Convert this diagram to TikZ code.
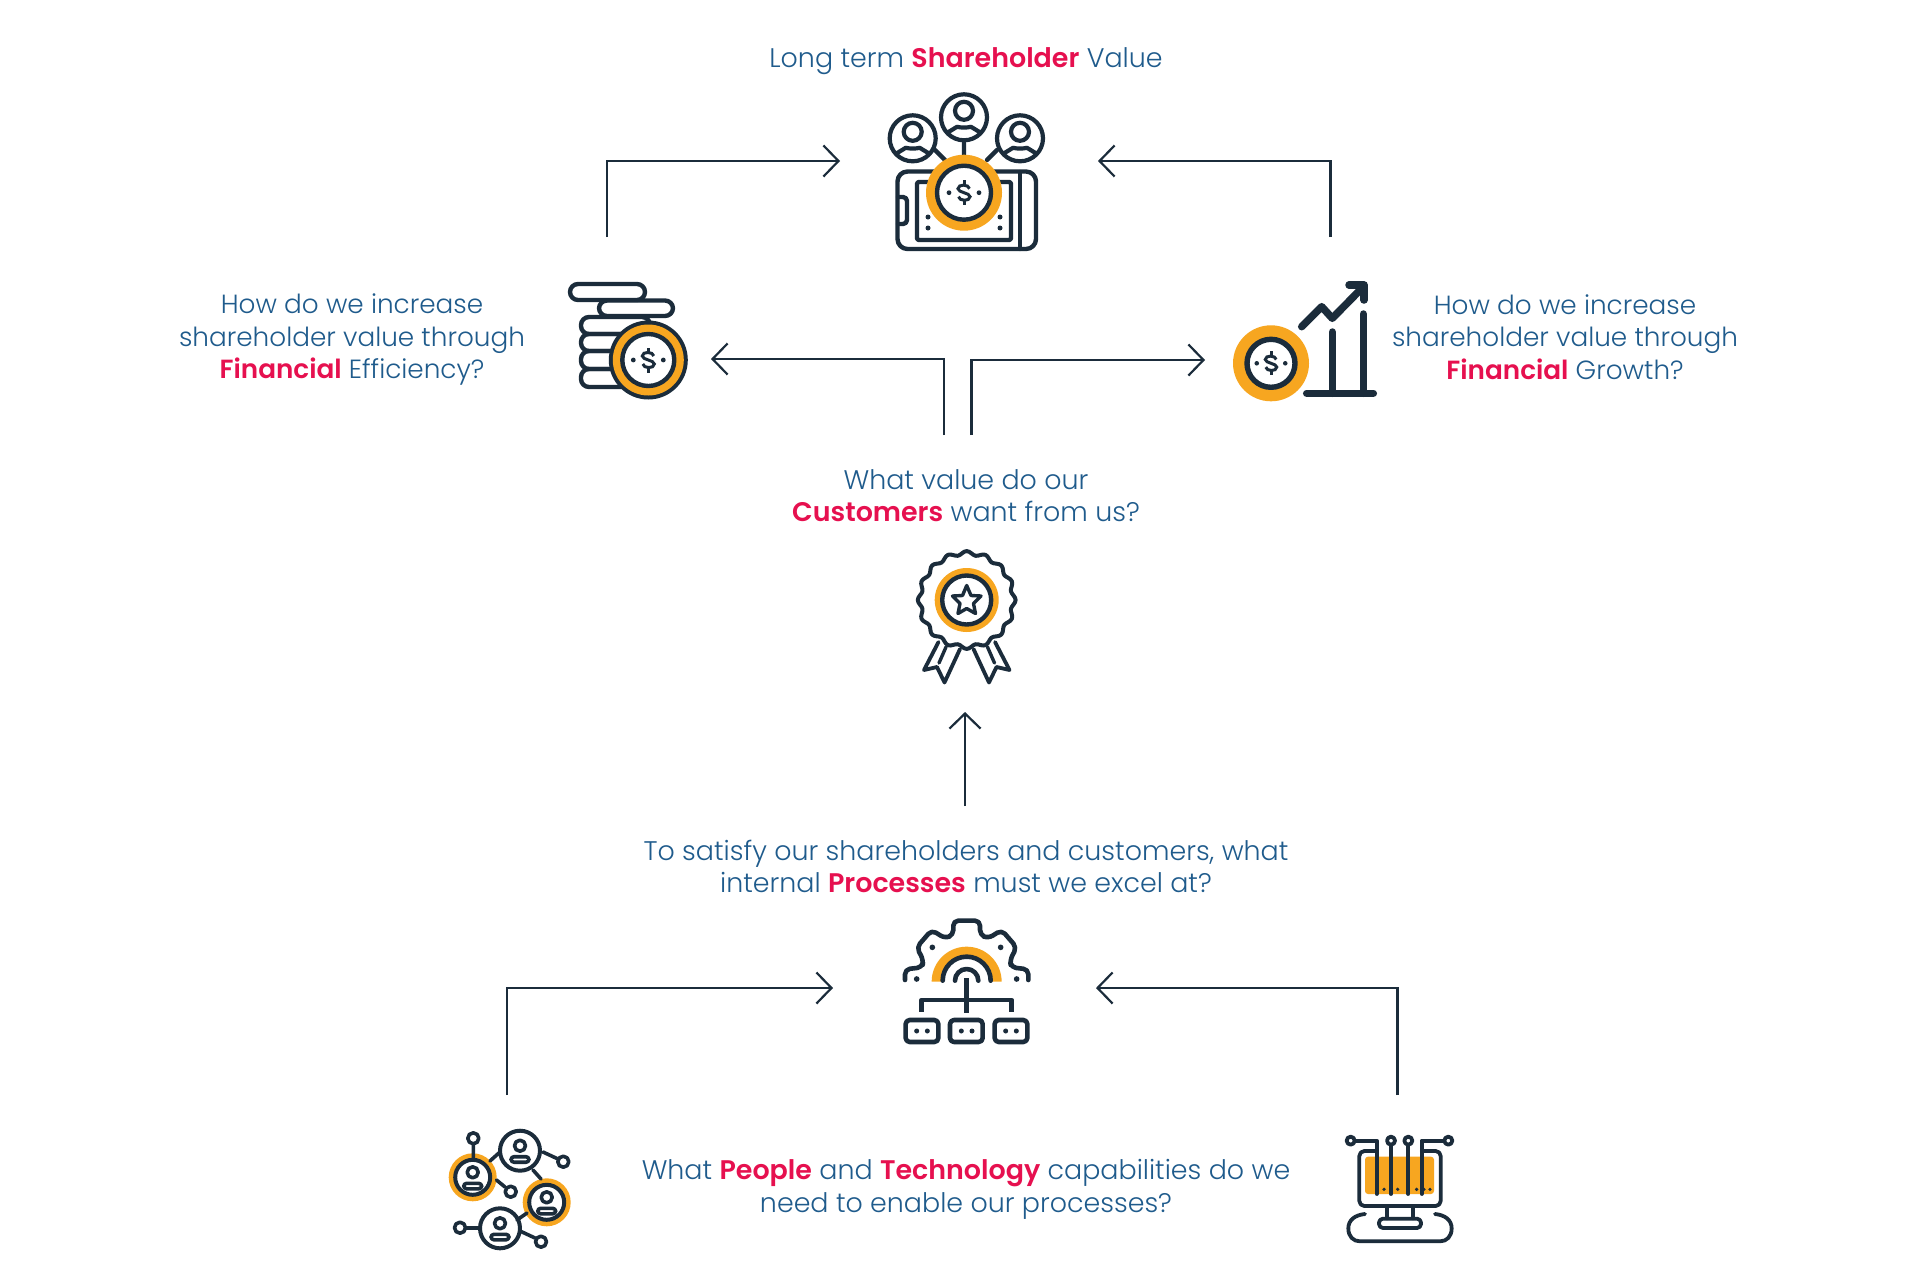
\documentclass[tikz,border=0pt]{standalone}
\usepackage{fontspec}
\setmainfont{Poppins}[UprightFont=* Light,BoldFont=* SemiBold]
\usetikzlibrary{arrows.meta}
\definecolor{ink}{HTML}{1B2C3B}
\definecolor{gold}{HTML}{F7A620}
\definecolor{bluetxt}{HTML}{1F5B8C}
\definecolor{redtxt}{HTML}{E6104F}
\newcommand{\hl}[1]{\textcolor{redtxt}{\textbf{#1}}}
\tikzset{
  link/.style={draw=ink,line width=2.2pt,-{Straight Barb[length=15pt,width=31pt,line width=2.2pt]},line join=miter},
  label/.style={text=bluetxt,align=center,font=\fontsize{26.9}{32.5}\selectfont,inner sep=0pt},
  labelnarrow/.style={label,font=\fontsize{26.3}{32.5}\selectfont},
  icon/.style={draw=ink,line width=4.4pt,line cap=round,line join=round},
  dollar/.pic={
    \fill[ink] (-15,0) circle (2.4) (15,0) circle (2.4);
    \draw[ink,line width=3pt,line cap=butt] (5.5,-4) .. controls (5,-8.5) and (-6,-9) .. (-6,-4) .. controls (-6,0) and (6,0) .. (6,4) .. controls (6,9) and (-5,8.5) .. (-5.5,4);
    \draw[ink,line width=3pt] (0,-8)--(0,-12.5) (0,8)--(0,12.5);
  },
  bust/.pic={
    \draw[icon,line width=4.2pt] (0,0) circle (23);
    \draw[icon,line width=4.2pt,fill=white] (0,-6.5) circle (9);
    \draw[icon,line width=4.2pt] (-16,15) -- (-7,9.5) .. controls (-3,10.5) and (3,10.5) .. (7,9.5) -- (16,15);
  },
  mini/.pic={
    \draw[icon,line width=3.6pt] (0,-5) circle (5.5);
    \draw[icon,line width=3.6pt,rounded corners=3pt] (-9,11.5) -- (-9,6) -- (9,6) -- (9,11.5) -- cycle;
  }
}
\begin{document}
\begin{tikzpicture}[x=1pt,y=-1pt]
\useasboundingbox (0,0) rectangle (1920,1280);
\fill[white] (0,0) rectangle (1920,1280);

% ---- text
\node[label] (tTop) at (966,61) {Long term \hl{Shareholder} Value};
\node[labelnarrow] (tEff) at (352,339.5) {How do we increase\\shareholder value through\\\hl{Financial} Efficiency?};
\node[labelnarrow] (tGro) at (1565,337) {How do we increase\\shareholder value through\\\hl{Financial} Growth?};
\node[label] (tCus) at (966,495.5) {What value do our\\\hl{Customers} want from us?};
\node[label] (tPro) at (966,866.5) {To satisfy our shareholders and customers, what\\internal \hl{Processes} must we excel at?};
\node[label] (tPeo) at (966,1189.5) {What \hl{People} and \hl{Technology} capabilities do we\\need to enable our processes?};

% ---- connector ends
\coordinate (a1s) at (607,237);   \coordinate (a1e) at (840,161);
\coordinate (a2s) at (1330.5,237);\coordinate (a2e) at (1098,161);
\coordinate (a3s) at (944,435);   \coordinate (a3e) at (711,359);
\coordinate (a4s) at (971.5,435); \coordinate (a4e) at (1205,360);
\coordinate (a5s) at (965,806);   \coordinate (a5e) at (965,712);
\coordinate (a6s) at (507,1095);  \coordinate (a6e) at (833,988);
\coordinate (a7s) at (1397.5,1095); \coordinate (a7e) at (1096,988);
\draw[link] (a1s) |- (a1e);
\draw[link] (a2s) |- (a2e);
\draw[link] (a3s) |- (a3e);
\draw[link] (a4s) |- (a4e);
\draw[link] (a5s) -- (a5e);
\draw[link] (a6s) |- (a6e);
\draw[link] (a7s) |- (a7e);

% ---- icon: shareholder
\pic at (912.7,138.3) {bust};
\pic at (964,117.3) {bust};
\pic at (1020,138.3) {bust};
\draw[icon] (935,150)--(945,160) (964,141)--(964,155) (997,150)--(987,160);
\draw[icon,rounded corners=10pt] (897.5,171.5) rectangle (1036,249);
\draw[icon,rounded corners=2pt] (917,182) rectangle (1011,240);
\draw[icon] (1020,172)--(1020,249);
\draw[icon,rounded corners=4pt] (898,197)--(907,197)--(907,224)--(898,224);
\fill[ink] (928,217) circle (2.5) (928,228) circle (2.5) (1000,217) circle (2.5) (1000,228) circle (2.5);
\fill[gold] (964,192.7) circle (38);
\draw[icon,fill=white] (964,192.7) circle (27);
\pic at (964,192.7) {dollar};

% ---- icon: coins
\draw[icon,rounded corners=8pt] (570,284) rectangle (645,300);
\draw[icon,rounded corners=8pt] (599,300.5) rectangle (673,316);
\draw[icon,rounded corners=8pt] (581,317) rectangle (650,334);
\draw[icon,rounded corners=8pt] (581,334) rectangle (650,351);
\draw[icon,rounded corners=8pt] (581,351) rectangle (650,369);
\draw[icon,rounded corners=8pt] (581,369) rectangle (650,387);
\fill[ink] (648.3,360) circle (39.5);
\fill[gold] (648.3,360) circle (35.5);
\draw[icon,fill=white] (648.3,360) circle (26);
\pic at (648.3,360) {dollar};

% ---- icon: growth
\fill[gold] (1271,363.3) circle (38);
\draw[icon,line width=5.4pt,fill=white] (1271,363.3) circle (24);
\pic[scale=.95] at (1271,363.3) {dollar};
\draw[icon,line width=7.5pt] (1306.7,393.3)--(1373.3,393.3) (1332.3,332)--(1332.3,393.3) (1363.3,314)--(1363.3,393.3);
\draw[icon,line width=7.5pt] (1301.7,326.7)--(1321.7,306.7)--(1332.3,318.3)--(1363.3,286.7);
\draw[icon,line width=7.5pt] (1349,285)--(1364,285)--(1364,300);

% ---- icon: rosette
\draw[icon,line width=4pt] plot[smooth cycle,samples=128,domain=0:357.1875,shift={(966.7,600)}] ({(47+1.9*cos(16*\x))*cos(\x)},{(47+1.9*cos(16*\x))*sin(\x)});
\fill[gold] (966.7,600) circle (32);
\draw[icon,fill=white] (966.7,600) circle (24.5);
\draw[icon,line width=3.4pt] (966.7,585.5)--(971,595.5)--(981,596)--(973.5,603.5)--(975.5,613.5)--(966.7,608.5)--(958,613.5)--(960,603.5)--(952.5,596)--(962.5,595.5)--cycle;
\draw[icon,line width=3.8pt] (938.5,642)--(924,670)--(937,667)--(944.5,682.5)--(960,649);
\draw[icon,line width=3.8pt] (995,642)--(1009.5,670)--(996.5,667)--(989,682.5)--(973.5,649);
\draw[icon,line width=3.4pt] (946,647)--(939,663) (987.5,647)--(994.5,663);

% ---- icon: gear
\begin{scope}[shift={(890,910)},x=.3333pt,y=-.3333pt]
\fill[gold] (125,215) arc[start angle=180,end angle=360,radius=105] -- (305,215) arc[start angle=360,end angle=180,radius=75] -- cycle;
\draw[icon,line width=4.6pt] (158,212) arc[start angle=180,end angle=360,radius=72];
\draw[icon,line width=4.6pt] (195,212) arc[start angle=180,end angle=360,radius=35];
\draw[icon,line width=4.6pt,rounded corners=5pt] (45,210)--(45,178)--(97,172)--(100,150)--(80,112)--(125,60)--(165,85)--(190,75)--(190,32)--(270,32)--(270,75)--(295,85)--(335,60)--(380,112)--(360,150)--(363,172)--(415,178)--(415,210);
\fill[ink] (127,112) circle (8.5) (332,112) circle (8.5) (80,207) circle (8.5) (380,207) circle (8.5);
\draw[icon,line width=4.6pt,line cap=butt] (230,205)--(230,310);
\draw[icon,line width=4.6pt,line cap=butt] (95,305)--(95,270)--(365,270)--(365,305);
\draw[icon,line width=4.6pt,rounded corners=4pt] (47,330) rectangle (145,396);
\draw[icon,line width=4.6pt,rounded corners=4pt] (180,330) rectangle (278,396);
\draw[icon,line width=4.6pt,rounded corners=4pt] (314,330) rectangle (412,396);
\fill[ink] (80,363) circle (7.5) (112,363) circle (7.5) (214,363) circle (7.5) (246,363) circle (7.5) (347,363) circle (7.5) (379,363) circle (7.5);
\end{scope}

% ---- icon: people network
\fill[gold] (472.7,1177.3) circle (24) (546.7,1202.3) circle (24);
\draw[icon,line width=4pt,fill=white] (472.7,1177.3) circle (17.5) (546.7,1202.3) circle (17.5);
\draw[icon,line width=4pt] (520,1150.7) circle (20) (500,1228.3) circle (20);
\draw[icon,line width=3.6pt] (473.3,1138.3) circle (5.5) (563.3,1161.7) circle (5.5) (510.7,1191.7) circle (5.5) (460,1227.7) circle (5.5) (541,1241.7) circle (5.5);
\draw[icon,line width=3.6pt] (473.3,1144)--(473.3,1159.5) (500,1152)--(490,1161) (543,1152)--(557,1158.5) (533,1170)--(541,1179) (496.5,1180)--(505,1187) (527,1213)--(517,1220) (466,1228)--(480,1228) (520,1231)--(535,1238);
\pic at (520,1150.7) {mini};
\pic at (472.7,1177.3) {mini};
\pic at (546.7,1202.3) {mini};
\pic at (500,1228.3) {mini};

% ---- icon: monitor
\begin{scope}[shift={(1330,1120)},x=.3333pt,y=-.3333pt]
\fill[gold,rounded corners=3pt] (105,110) rectangle (312,222);
\draw[icon,line width=3.8pt,rounded corners=5pt] (140,93)--(88,93)--(88,258)--(332,258)--(332,93)--(275,93);
\draw[icon,line width=3.8pt] (75,62)--(140,62)--(140,222) (183,75)--(183,222) (235,75)--(235,222) (342,62)--(275,62)--(275,222);
\draw[icon,line width=3.8pt] (62,62) circle (12) (183,62) circle (12) (235,62) circle (12) (355,62) circle (12);
\fill[ink] (162,208) circle (5.5) (203,208) circle (5.5) (260,208) circle (5.5) (282,208) circle (5.5) (300,208) circle (5.5);
\draw[icon,line width=3.8pt] (170,262)--(170,295) (250,262)--(250,295);
\draw[icon,line width=3.8pt,rounded corners=4pt] (147,296) rectangle (273,324);
\draw[icon,line width=3.8pt] (105,282) .. controls (75,285) and (55,300) .. (55,325) .. controls (55,350) and (70,364) .. (90,364) -- (330,364) .. controls (350,364) and (365,350) .. (365,325) .. controls (365,300) and (345,285) .. (315,282);
\end{scope}
\end{tikzpicture}
\end{document}
